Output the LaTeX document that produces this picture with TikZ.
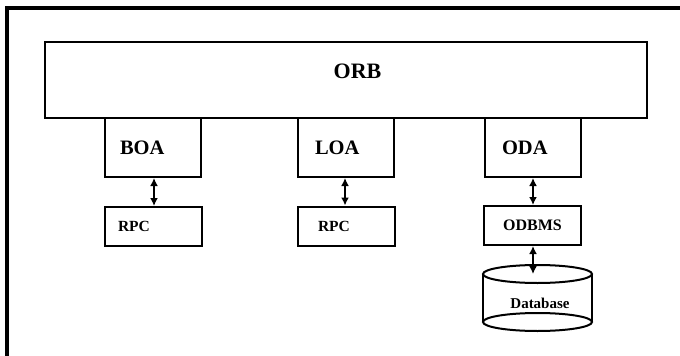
\documentclass[tikz,border=0pt]{standalone}
\usepackage{fontspec}
\setmainfont{Liberation Serif}
\usetikzlibrary{arrows.meta}
\begin{document}
\begin{tikzpicture}[x=1pt,y=-1pt,
  box/.style={draw, line width=2pt, rectangle, inner sep=0pt},
  adapter/.style={box, minimum width=96pt, minimum height=59pt, align=left, font=\bfseries\fontsize{20.5}{20.5}\selectfont},
  small/.style={box, minimum width=97pt, minimum height=39pt, align=left, font=\bfseries\fontsize{15.5}{15.5}\selectfont},
  link/.style={line width=2pt, {Latex[length=8pt,width=8pt]}-{Latex[length=8pt,width=8pt]}},
  shapeline/.style={line width=2pt},
]
\useasboundingbox (0,0) rectangle (680,356);
% outer frame (cropped)
\draw[line width=4pt] (7,8) rectangle (720,400);
% ORB
\node[box, minimum width=602pt, minimum height=76pt] (orb) at (346,80) {};
\node[font=\bfseries\fontsize{22}{22}\selectfont] (orbtext) at (357.5,71) {ORB};
% adapters
\node[adapter, text width=66pt] (boa) at (153,147.5) {BOA};
\node[adapter, text width=62pt] (loa) at (346,147.5) {LOA};
\node[adapter, text width=61pt] (oda) at (532.5,147.5) {ODA};
% lower boxes
\node[small, text width=71pt] (rpc1) at (153.5,226.5) {RPC};
\node[small, text width=57pt] (rpc2) at (346.5,226) {RPC};
\node[small, align=center, font=\bfseries\fontsize{16}{16}\selectfont] (odbms) at (532.5,225.5) {ODBMS};
% database cylinder
\node[inner sep=0pt, font=\bfseries\fontsize{15}{15}\selectfont] (db) at (540,303) {Database};
\draw[shapeline] (537.5,274) ellipse [x radius=54.5, y radius=9];
\draw[shapeline] (537.5,322) ellipse [x radius=54.5, y radius=9];
\draw[shapeline] (483,274) -- (483,322);
\draw[shapeline] (592,274) -- (592,322);
\coordinate (dbin) at (533,274);
% links
\draw[link] (boa.south -| 154,0) -- (rpc1.north -| 154,0);
\draw[link] (loa.south -| 345,0) -- (rpc2.north -| 345,0);
\draw[link] (oda.south -| 533,0) -- (odbms.north -| 533,0);
\draw[link] (odbms.south -| 533,0) -- (dbin);
\end{tikzpicture}
\end{document}
